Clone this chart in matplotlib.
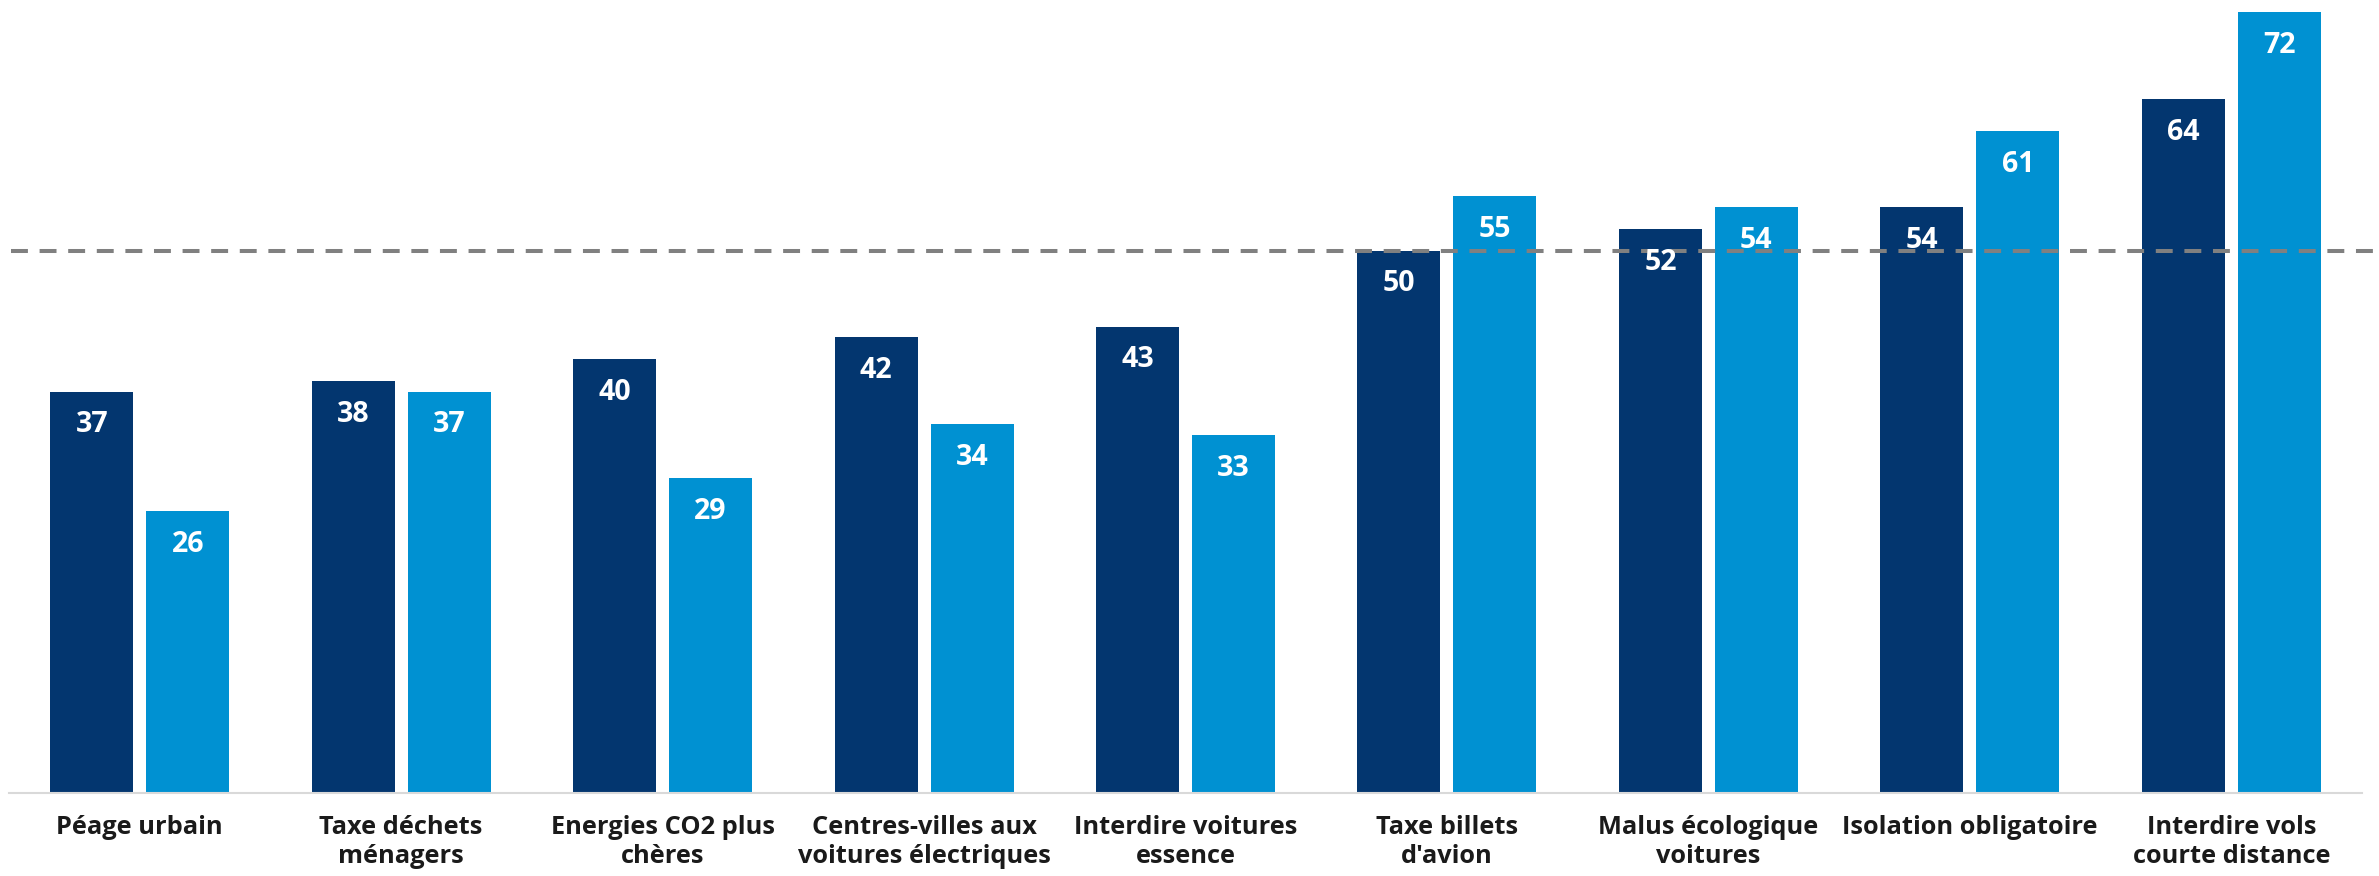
import numpy as np
import matplotlib.pyplot as plt

# data
categories = ['Péage urbain', 'Taxe déchets\nménagers', 'Energies CO2 plus\nchères',
              'Centres-villes aux\nvoitures électriques', 'Interdire voitures\nessence',
              'Taxe billets\nd\'avion', 'Malus écologique\nvoitures', 'Isolation obligatoire',
              'Interdire vols\ncourte distance']
serie_1 = [37, 38, 40, 42, 43, 50, 52, 54, 64]
serie_2 = [26, 37, 29, 34, 33, 55, 54, 61, 72]
reference = 50

dark = '#03366F'
light = '#0091D2'

plt.rcParams['font.family'] = ['Open Sans', 'DejaVu Sans']

fig = plt.figure(figsize=(23.79, 8.76), dpi=100)
# axes placed in pixels: x 9..2362, y 0..793 (from top)
ax = fig.add_axes([9 / 2379, 1 - 793 / 876, (2362 - 9) / 2379, 793 / 876])

x = np.arange(len(categories))
w = 0.3175
off = 0.1836
b1 = ax.bar(x - off, serie_1, w, color=dark, zorder=2)
b2 = ax.bar(x + off, serie_2, w, color=light, zorder=2)

ax.set_xlim(-0.5, 8.5)
ax.set_ylim(0, 73.1)

# value labels inside the bars
for bars, vals in ((b1, serie_1), (b2, serie_2)):
    for rect, v in zip(bars, vals):
        ax.annotate(str(v), (rect.get_x() + rect.get_width() / 2, v),
                    xytext=(0, -24), textcoords='offset points',
                    ha='center', va='center', color='white',
                    fontsize=20.5, fontweight='bold', zorder=4)

# dashed reference line, running to the right edge of the figure
ax.axhline(reference, xmin=0.001, xmax=(2379 - 9) / (2362 - 9), color='#808080',
           lw=2.9, dashes=(4.2, 2.9), clip_on=False, zorder=3)

for s in ['top', 'right', 'left']:
    ax.spines[s].set_visible(False)
ax.spines['bottom'].set_color('#d9d9d9')
ax.spines['bottom'].set_linewidth(1.5)
ax.set_yticks([])
ax.set_xticks(x)
ax.set_xticklabels(categories, fontsize=18.3, fontweight='bold', color='#1a1a1a',
                   linespacing=1.22, va='top')
ax.tick_params(axis='x', length=0, pad=16)

fig.savefig('out.png', dpi=100)
